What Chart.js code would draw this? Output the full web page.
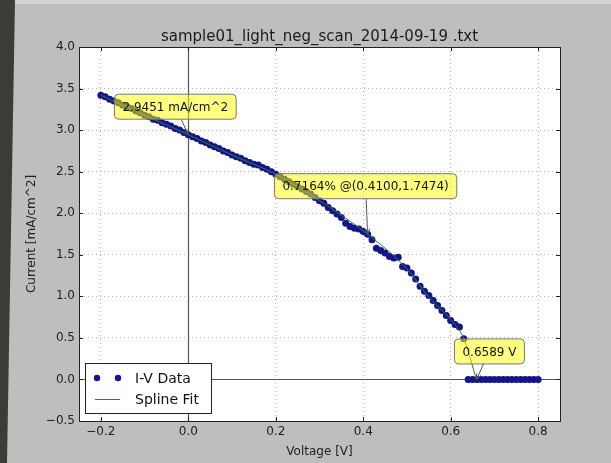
<!DOCTYPE html>
<html>
<head>
<meta charset="utf-8">
<script src="https://cdn.jsdelivr.net/npm/chart.js@4.4.0/dist/chart.umd.min.js"></script>
<style>
    html, body {margin: 0; padding: 0; background: #bebebe;}
    #wrap {position: relative; width: 611px; height: 463px; overflow: hidden; background: #bebebe;}
    #topStrip {position: absolute; left: 0; top: 0; width: 611px; height: 4px; background: #d2d2d2;}
    #leftStrip {position: absolute; left: 0; top: 0; width: 16px; height: 463px; background: #3c3b36;
        clip-path: polygon(0 0, 15px 0, 7px 100%, 0 100%);}
    canvas {position: absolute; left: 0; top: 0;}
</style>
</head>
<body>
<div id="wrap">
    <div id="topStrip"></div>
    <div id="leftStrip"></div>
    <canvas id="ivChart" width="611" height="463"></canvas>
</div>
<script>
// 측정값 (I-V)
const voltage = [
    -0.20, -0.19, -0.18, -0.17, -0.16, -0.15, -0.14, -0.13, -0.12, -0.11,
    -0.10, -0.09, -0.08, -0.07, -0.06, -0.05, -0.04, -0.03, -0.02, -0.01,
    0.00, 0.01, 0.02, 0.03, 0.04, 0.05, 0.06, 0.07, 0.08, 0.09,
    0.10, 0.11, 0.12, 0.13, 0.14, 0.15, 0.16, 0.17, 0.18, 0.19,
    0.20, 0.21, 0.22, 0.23, 0.24, 0.25, 0.26, 0.27, 0.28, 0.29,
    0.30, 0.31, 0.32, 0.33, 0.34, 0.35, 0.36, 0.37, 0.38, 0.39,
    0.40, 0.41, 0.42, 0.43, 0.44, 0.45, 0.46, 0.47, 0.48, 0.49,
    0.50, 0.51, 0.52, 0.53, 0.54, 0.55, 0.56, 0.57, 0.58, 0.59,
    0.60, 0.61, 0.62, 0.63, 0.64, 0.65, 0.66, 0.67, 0.68, 0.69,
    0.70, 0.71, 0.72, 0.73, 0.74, 0.75, 0.76, 0.77, 0.78, 0.79,
    0.80
];
const current = [
    3.42, 3.40, 3.37, 3.35, 3.33, 3.30, 3.28, 3.26, 3.23, 3.21,
    3.18, 3.16, 3.13, 3.12, 3.09, 3.07, 3.05, 3.02, 3.00, 2.97,
    2.945, 2.92, 2.90, 2.87, 2.85, 2.82, 2.80, 2.78, 2.75, 2.73,
    2.70, 2.68, 2.66, 2.63, 2.61, 2.59, 2.58, 2.55, 2.53, 2.50,
    2.47, 2.44, 2.41, 2.38, 2.35, 2.32, 2.29, 2.26, 2.23, 2.19,
    2.15, 2.12, 2.07, 2.03, 1.99, 1.95, 1.88, 1.84, 1.82, 1.81,
    1.78, 1.7474, 1.68, 1.58, 1.55, 1.52, 1.48, 1.46, 1.47, 1.36,
    1.34, 1.28, 1.21, 1.12, 1.06, 1.01, 0.95, 0.89, 0.83, 0.77,
    0.71, 0.66, 0.63, 0.49, 0, 0, 0, 0, 0, 0,
    0, 0, 0, 0, 0, 0, 0, 0, 0, 0,
    0
];

// 스플라인 피팅
const splineV = [-0.20, -0.10, 0.00, 0.10, 0.20, 0.30, 0.41, 0.50, 0.55, 0.60, 0.63, 0.6589];
const splineI = [3.42, 3.18, 2.945, 2.70, 2.47, 2.15, 1.7474, 1.33, 0.99, 0.72, 0.49, 0];

const xTicks = [-0.2, 0.0, 0.2, 0.4, 0.6, 0.8];
const yTicks = [-0.5, 0.0, 0.5, 1.0, 1.5, 2.0, 2.5, 3.0, 3.5, 4.0];

// 주석 (Jsc, 효율 @ 최대 전력점, Voc)
const noteText = ['2.9451 mA/cm^2', '0.7164% @(0.4100,1.7474)', '0.6589 V'];
const noteV = [0, 0.41, 0.6589];
const noteI = [2.9451, 1.7474, 0];

const titleText = 'sample01_light_neg_scan_2014-09-19 .txt';
const FONT = 'DejaVu Sans';

// 주석 박스 위치 (point 기준 픽셀 오프셋)
const noteOffset = [[-13, -28], [-2, -48], [13, -28]];

const ivPoints = voltage.map((v, i) => ({x: v, y: current[i]}));
const splinePoints = splineV.map((v, i) => ({x: v, y: splineI[i]}));

function fmtTick(v) {
    return (v < 0 ? '\u2212' : '') + Math.abs(v).toFixed(1);
}

function px(v) {
    return Math.round(v) + 0.5;
}

const plotDecor = {
    id: 'plotDecor',
    beforeDraw(chart) {
        const {ctx, chartArea: a} = chart;
        ctx.save();
        ctx.fillStyle = '#ffffff';
        ctx.fillRect(a.left, a.top, a.right - a.left, a.bottom - a.top);
        ctx.restore();
    },
    beforeDatasetsDraw(chart) {
        // axhline / axvline
        const {ctx, chartArea: a, scales: {x, y}} = chart;
        ctx.save();
        ctx.strokeStyle = '#555';
        ctx.lineWidth = 1.2;
        const x0 = px(x.getPixelForValue(0));
        const y0 = px(y.getPixelForValue(0));
        ctx.beginPath();
        ctx.moveTo(x0, a.top);
        ctx.lineTo(x0, a.bottom);
        ctx.moveTo(a.left, y0);
        ctx.lineTo(a.right, y0);
        ctx.stroke();
        ctx.restore();
    },
    afterDraw(chart) {
        const {ctx, chartArea: a, scales: {x, y}} = chart;
        ctx.save();

        // 프레임 + 안쪽 눈금
        ctx.strokeStyle = '#222';
        ctx.lineWidth = 1;
        ctx.strokeRect(px(a.left), px(a.top), Math.round(a.right - a.left), Math.round(a.bottom - a.top));
        ctx.beginPath();
        xTicks.forEach(v => {
            const p = px(x.getPixelForValue(v));
            ctx.moveTo(p, a.bottom); ctx.lineTo(p, a.bottom - 4);
            ctx.moveTo(p, a.top); ctx.lineTo(p, a.top + 4);
        });
        yTicks.forEach(v => {
            const p = px(y.getPixelForValue(v));
            ctx.moveTo(a.left, p); ctx.lineTo(a.left + 4, p);
            ctx.moveTo(a.right, p); ctx.lineTo(a.right - 4, p);
        });
        ctx.stroke();

        // 주석
        ctx.font = '12px "' + FONT + '"';
        ctx.textAlign = 'center';
        ctx.textBaseline = 'middle';
        noteText.forEach((t, i) => {
            const tx = x.getPixelForValue(noteV[i]);
            const ty = y.getPixelForValue(noteI[i]);
            const cx = tx + noteOffset[i][0];
            const cy = ty + noteOffset[i][1];
            const hw = (ctx.measureText(t).width + 16) / 2;
            const hh = 12.5;
            const dx = tx - cx, dy = ty - cy;
            const k = Math.min(dx !== 0 ? hw / Math.abs(dx) : Infinity, dy !== 0 ? hh / Math.abs(dy) : Infinity);
            const sx = cx + dx * k, sy = cy + dy * k;

            ctx.strokeStyle = '#555';
            ctx.lineWidth = 1;
            ctx.beginPath();
            ctx.moveTo(sx, sy);
            ctx.lineTo(tx, ty);
            const ang = Math.atan2(ty - sy, tx - sx);
            ctx.moveTo(tx - 6 * Math.cos(ang - 0.4), ty - 6 * Math.sin(ang - 0.4));
            ctx.lineTo(tx, ty);
            ctx.lineTo(tx - 6 * Math.cos(ang + 0.4), ty - 6 * Math.sin(ang + 0.4));
            ctx.stroke();

            ctx.beginPath();
            ctx.roundRect(cx - hw, cy - hh, hw * 2, hh * 2, 4);
            ctx.fillStyle = 'rgba(255,255,0,0.5)';
            ctx.fill();
            ctx.strokeStyle = '#777';
            ctx.stroke();
            ctx.fillStyle = '#111';
            ctx.fillText(t, cx, cy + 1);
        });

        // 범례 (좌하단)
        const ds = chart.data.datasets;
        const iv = ds.find(d => d.label === 'I-V Data');
        const sp = ds.find(d => d.label === 'Spline Fit');
        const lx = a.left + 6, lb = a.bottom - 8, lw = 126, lh = 50;
        ctx.fillStyle = '#ffffff';
        ctx.fillRect(lx, lb - lh, lw, lh);
        ctx.strokeStyle = '#222';
        ctx.strokeRect(px(lx), px(lb - lh), lw, lh);
        const r1 = lb - lh + 15, r2 = lb - lh + 36;
        ctx.fillStyle = iv.backgroundColor;
        [lx + 12, lx + 33].forEach(mx => {
            ctx.beginPath();
            ctx.arc(mx, r1, 3.2, 0, Math.PI * 2);
            ctx.fill();
        });
        ctx.strokeStyle = sp.borderColor;
        ctx.lineWidth = 1;
        ctx.beginPath();
        ctx.moveTo(lx + 10, px(r2));
        ctx.lineTo(lx + 35, px(r2));
        ctx.stroke();
        ctx.font = '14px "' + FONT + '"';
        ctx.textAlign = 'left';
        ctx.fillStyle = '#111';
        ctx.fillText(iv.label, lx + 50, r1 + 1);
        ctx.fillText(sp.label, lx + 50, r2 + 1);

        ctx.restore();
    }
};

const tickFont = {family: FONT, size: 12};

const ctx = document.getElementById('ivChart').getContext('2d');
const ivChart = new Chart(ctx, {
    type: 'scatter',
    data: {
        datasets: [
            {label: 'Spline Fit', data: splinePoints, showLine: true, borderColor: '#2f7d2f', borderWidth: 1,
                pointRadius: 0, cubicInterpolationMode: 'monotone', order: 0},
            {label: 'I-V Data', data: ivPoints, pointRadius: 3.5, backgroundColor: '#14148c',
                borderColor: '#14148c', borderWidth: 0, order: 1}
        ]
    },
    options: {
        responsive: false,
        animation: false,
        devicePixelRatio: 1,
        layout: {padding: {left: 0, right: 51, top: 0, bottom: 0}},
        plugins: {
            legend: {display: false},
            tooltip: {enabled: false},
            title: {
                display: true, text: titleText, fullSize: false, color: '#1a1a1a',
                font: {family: FONT, size: 15, weight: 'normal'},
                padding: {top: 28, bottom: 1}
            }
        },
        scales: {
            x: {
                type: 'linear', min: -0.25, max: 0.85,
                afterBuildTicks: s => { s.ticks = xTicks.map(v => ({value: v})); },
                afterFit: s => { s.height = 42; },
                ticks: {callback: fmtTick, font: tickFont, color: '#222', padding: 4, maxRotation: 0, autoSkip: false},
                grid: {color: 'rgba(0,0,0,0.3)', lineWidth: 1, drawTicks: false},
                border: {display: true, color: '#222', width: 1, dash: [1, 3]},
                title: {display: true, text: 'Voltage [V]', font: tickFont, color: '#222', padding: {top: 0, bottom: 3.8}}
            },
            y: {
                type: 'linear', min: -0.5, max: 4.0,
                afterBuildTicks: s => { s.ticks = yTicks.map(v => ({value: v})); },
                afterFit: s => { s.width = 79; },
                ticks: {callback: fmtTick, font: tickFont, color: '#222', padding: 4, autoSkip: false},
                grid: {color: 'rgba(0,0,0,0.3)', lineWidth: 1, drawTicks: false},
                border: {display: true, color: '#222', width: 1, dash: [1, 3]},
                title: {display: true, text: 'Current [mA/cm^2]', font: tickFont, color: '#222', padding: {top: 25, bottom: 0}}
            }
        }
    },
    plugins: [plotDecor]
});
</script>
</body>
</html>
